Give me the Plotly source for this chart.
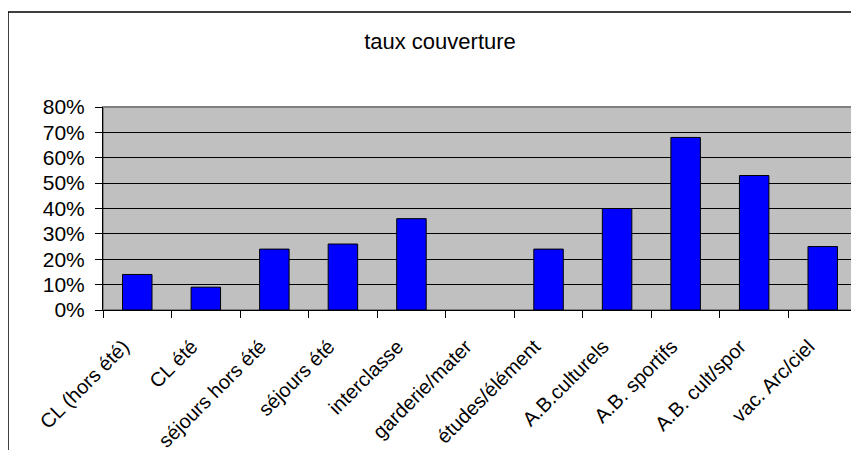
import plotly.graph_objects as go

categories = ["CL (hors été)", "CL été", "séjours hors été", "séjours été", "interclasse",
              "garderie/mater", "études/élément", "A.B.culturels", "A.B. sportifs",
              "A.B. cult/spor", "vac. Arc/ciel"]
taux = [0.14, 0.09, 0.24, 0.26, 0.36, 0.0, 0.24, 0.40, 0.68, 0.53, 0.25]
y_ticks = [0, 0.1, 0.2, 0.3, 0.4, 0.5, 0.6, 0.7, 0.8]
y_labels = ["0%", "10%", "20%", "30%", "40%", "50%", "60%", "70%", "80%"]

font = "Liberation Sans, Arial, sans-serif"

# page body has an 8px margin; figure coordinates are offset accordingly
OFF = 8
W, H = 859 - OFF, 450 - OFF
L, T = 103 - OFF, 107 - OFF
R = W - (857 - OFF)
B = H - (310 - OFF)
pw = W - L - R
ph = H - T - B

fig = go.Figure(go.Bar(
    x=categories, y=taux,
    marker=dict(color="#0000FF",
                line=dict(color="black", width=[1 if v > 0 else 0 for v in taux])),
    width=0.43,
))

fig.update_layout(
    width=W, height=H,
    margin=dict(l=L, r=R, t=T, b=B, autoexpand=False),
    paper_bgcolor="white",
    plot_bgcolor="#C0C0C0",
    showlegend=False,
    font=dict(family=font, color="black"),
    title=dict(text="taux couverture", x=(440 - OFF) / W, xanchor="center",
               y=1 - (41 - OFF) / H, yanchor="middle",
               font=dict(size=22, family=font, color="black")),
    xaxis=dict(
        tickangle=-45, tickfont=dict(size=20, family=font),
        tickson="boundaries", ticks="outside", ticklen=7, tickcolor="black",
        ticklabelstandoff=16, ticklabelshift=-14,
        showline=True, linecolor="black", linewidth=1, showgrid=False,
        automargin=False,
    ),
    yaxis=dict(
        range=[0, 0.8], tickvals=y_ticks, ticktext=y_labels,
        tickfont=dict(size=21, family=font),
        ticks="outside", ticklen=7, tickcolor="black", ticklabelstandoff=6,
        showline=True, linecolor="black", linewidth=1,
        showgrid=True, gridcolor="black", gridwidth=1, zeroline=False,
        automargin=False,
    ),
    shapes=[
        dict(type="rect", xref="paper", yref="paper",
             x0=0, x1=1, y0=0, y1=1, line=dict(color="#808080", width=2), layer="below"),
        dict(type="rect", xref="paper", yref="paper",
             x0=(0 - L) / pw, x1=(W + 20 - L) / pw,
             y0=(T + ph - (H + 20)) / ph, y1=(T + ph - (12 - OFF)) / ph,
             line=dict(color="black", width=1.5), fillcolor="rgba(0,0,0,0)"),
    ],
)

fig.write_html("out.html")
